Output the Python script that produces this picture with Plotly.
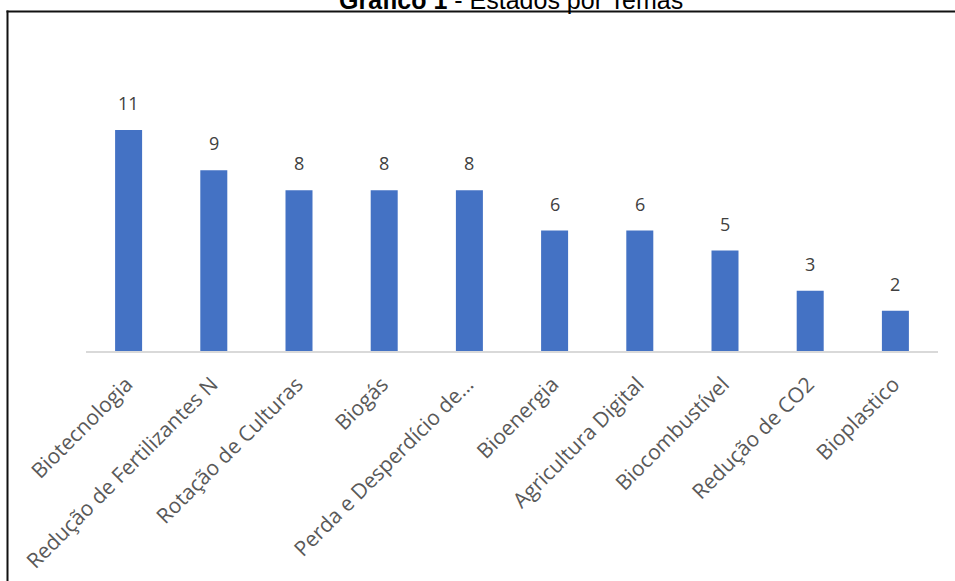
import plotly.graph_objects as go

# Temas e número de estados por tema
temas = [
    "Biotecnologia",
    "Redução de Fertilizantes N",
    "Rotação de Culturas",
    "Biogás",
    "Perda e Desperdício de…",
    "Bioenergia",
    "Agricultura Digital",
    "Biocombustível",
    "Redução de CO2",
    "Bioplastico",
]
estados = [11, 9, 8, 8, 8, 6, 6, 5, 3, 2]

titulo_negrito = "Gráfico 1"
titulo_resto = " - Estados por Temas"

W, H = 955, 581
ML, MR, MT, MB = 86, 17, 110, 230
PW, PH = W - ML - MR, H - MT - MB


def px_x(p):
    return (p - ML) / PW


def px_y(p):
    return (H - MB - p) / PH


fig = go.Figure(
    go.Bar(
        x=temas,
        y=estados,
        marker=dict(color="#4472C4", line=dict(width=0)),
        hoverinfo="x+y",
    )
)

# Rótulos de valor acima de cada barra
for t, v in zip(temas, estados):
    fig.add_annotation(
        x=t, y=v, text=str(v), showarrow=False,
        yanchor="bottom", yshift=13,
        font=dict(family="Open Sans", size=18, color="#404040"),
    )

# Título (parcialmente acima da moldura)
fig.add_annotation(
    xref="paper", yref="paper",
    x=px_x(511), y=px_y(0), xanchor="center", yanchor="middle",
    text=f"<b>{titulo_negrito}</b>{titulo_resto}", showarrow=False,
    font=dict(family="Liberation Sans, Arial", size=25, color="#000000"),
)

# Moldura: borda superior e esquerda
fig.add_shape(type="line", xref="paper", yref="paper",
              x0=px_x(6.5), x1=px_x(960), y0=px_y(11.5), y1=px_y(11.5),
              line=dict(color="#111111", width=2))
fig.add_shape(type="line", xref="paper", yref="paper",
              x0=px_x(7.5), x1=px_x(7.5), y0=px_y(10.5), y1=px_y(590),
              line=dict(color="#111111", width=2))

fig.update_layout(
    width=W, height=H,
    margin=dict(l=ML, r=MR, t=MT, b=MB, autoexpand=False),
    plot_bgcolor="white", paper_bgcolor="white",
    bargap=0.683,
    showlegend=False,
    font=dict(family="Open Sans", color="#595959"),
)
fig.update_xaxes(
    automargin=False,
    tickangle=-45,
    tickfont=dict(family="Open Sans", size=21, color="#595959"),
    ticklabelstandoff=11,
    ticklabelshift=-2,
    showline=True, linecolor="#d9d9d9", linewidth=1.5,
    showgrid=False, ticks="",
)
fig.update_yaxes(range=[0, 12], visible=False, showgrid=False, automargin=False)

fig.write_html("out.html")
